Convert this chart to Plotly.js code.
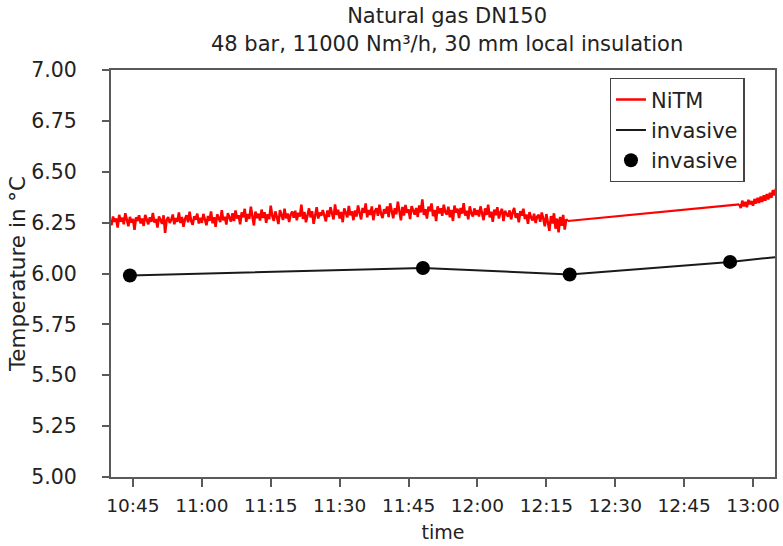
<!DOCTYPE html>
<html>
<head>
<meta charset="utf-8">
<script src="https://cdn.plot.ly/plotly-3.0.1.min.js"></script>
<style>html,body{margin:0;padding:0;background:#fff;}#chart{width:783px;height:546px;}</style>
</head>
<body>
<div id="chart"></div>
<script>
// NiTM segment 1: samples every 20 s starting 10:40:00
const nitmStart1 = '2020-01-01 10:40:00';
const nitmValues1 = [
6.262, 6.238, 6.280, 6.254, 6.270, 6.226, 6.288, 6.256, 6.274, 6.242, 6.296, 6.260, 6.232, 6.278, 6.250, 6.268, 6.214, 6.276, 6.258, 6.286,
6.246, 6.270, 6.234, 6.288, 6.260, 6.242, 6.276, 6.254, 6.298, 6.250, 6.268, 6.226, 6.280, 6.260, 6.244, 6.286, 6.200, 6.262, 6.278, 6.248,
6.264, 6.290, 6.242, 6.272, 6.254, 6.300, 6.248, 6.278, 6.230, 6.268, 6.286, 6.252, 6.304, 6.258, 6.240, 6.282, 6.264, 6.294, 6.246, 6.274,
6.249, 6.293, 6.265, 6.237, 6.283, 6.259, 6.305, 6.247, 6.277, 6.229, 6.291, 6.267, 6.253, 6.311, 6.261, 6.279, 6.241, 6.297, 6.271, 6.255,
6.296, 6.258, 6.310, 6.270, 6.286, 6.242, 6.300, 6.276, 6.318, 6.254, 6.292, 6.268, 6.328, 6.280, 6.236, 6.304, 6.272, 6.294, 6.260, 6.314,
6.273, 6.301, 6.249, 6.291, 6.267, 6.333, 6.283, 6.259, 6.305, 6.277, 6.243, 6.311, 6.285, 6.263, 6.319, 6.271, 6.295, 6.253, 6.289, 6.305,
6.274, 6.308, 6.262, 6.298, 6.280, 6.338, 6.268, 6.302, 6.252, 6.288, 6.320, 6.276, 6.306, 6.244, 6.294, 6.326, 6.270, 6.300, 6.284, 6.312,
6.284, 6.256, 6.310, 6.278, 6.326, 6.292, 6.266, 6.340, 6.288, 6.314, 6.270, 6.302, 6.252, 6.320, 6.294, 6.276, 6.332, 6.286, 6.306, 6.262,
6.310, 6.280, 6.334, 6.292, 6.266, 6.322, 6.298, 6.344, 6.276, 6.312, 6.288, 6.330, 6.262, 6.306, 6.320, 6.284, 6.338, 6.294, 6.272, 6.316,
6.295, 6.329, 6.277, 6.345, 6.303, 6.271, 6.321, 6.291, 6.353, 6.309, 6.261, 6.327, 6.285, 6.337, 6.299, 6.315, 6.267, 6.331, 6.305, 6.289,
6.322, 6.278, 6.334, 6.300, 6.364, 6.288, 6.316, 6.270, 6.328, 6.306, 6.344, 6.282, 6.312, 6.258, 6.330, 6.296, 6.320, 6.284, 6.338, 6.302,
6.290, 6.328, 6.276, 6.312, 6.258, 6.334, 6.300, 6.318, 6.272, 6.322, 6.294, 6.346, 6.284, 6.308, 6.266, 6.330, 6.296, 6.280, 6.320, 6.288,
6.312, 6.280, 6.330, 6.294, 6.262, 6.320, 6.288, 6.338, 6.276, 6.304, 6.254, 6.314, 6.286, 6.326, 6.270, 6.300, 6.318, 6.258, 6.308, 6.292,
6.280, 6.310, 6.266, 6.300, 6.322, 6.274, 6.296, 6.252, 6.306, 6.284, 6.318, 6.268, 6.290, 6.244, 6.302, 6.276, 6.260, 6.294, 6.248, 6.280,
6.288, 6.254, 6.300, 6.270, 6.232, 6.292, 6.258, 6.210, 6.282, 6.246, 6.296, 6.220, 6.270, 6.202, 6.278, 6.234, 6.288, 6.216, 6.266, 6.258
];
// NiTM segment 2: samples every 20 s starting 12:57:00
const nitmStart2 = '2020-01-01 12:57:00';
const nitmValues2 = [
6.340, 6.322, 6.358, 6.330, 6.352, 6.326, 6.362, 6.340, 6.356, 6.333, 6.366, 6.344, 6.372, 6.347, 6.378, 6.352, 6.384, 6.358, 6.390, 6.364,
6.396, 6.372, 6.410, 6.384, 6.418
];
const nitmGapTimes = ['2020-01-01 12:19:40', '2020-01-01 12:57:00'];
const nitmGapValues = [6.258, 6.340];

// invasive reference measurements
const invasiveTimes = ['2020-01-01 10:44:20', '2020-01-01 11:48:08', '2020-01-01 12:20:05', '2020-01-01 12:55:00'];
const invasiveValues = [5.990, 6.027, 5.995, 6.057];
const invasiveLineTimes = ['2020-01-01 10:44:20', '2020-01-01 11:48:08', '2020-01-01 12:20:05', '2020-01-01 12:55:00', '2020-01-01 13:06:00'];
const invasiveLineValues = [5.990, 6.027, 5.995, 6.057, 6.083];

const yTickVals = [5.00, 5.25, 5.50, 5.75, 6.00, 6.25, 6.50, 6.75, 7.00];
const yTickText = ['5.00', '5.25', '5.50', '5.75', '6.00', '6.25', '6.50', '6.75', '7.00'];

const FONT = 'DejaVu Sans, sans-serif';
const TXT = '#222';
const AX = '#5a5a5a';
const SAMPLE_MS = 20000;

const traces = [
  {type: 'scatter', mode: 'lines', name: 'NiTM', x0: nitmStart1, dx: SAMPLE_MS, y: nitmValues1,
   line: {color: '#ff0000', width: 2.5}, legendgroup: 'nitm'},
  {type: 'scatter', mode: 'lines', name: 'NiTM', x: nitmGapTimes, y: nitmGapValues,
   line: {color: '#ff0000', width: 2.2}, legendgroup: 'nitm', showlegend: false},
  {type: 'scatter', mode: 'lines', name: 'NiTM', x0: nitmStart2, dx: SAMPLE_MS, y: nitmValues2,
   line: {color: '#ff0000', width: 2.5}, legendgroup: 'nitm', showlegend: false},
  {type: 'scatter', mode: 'lines', name: 'invasive', x: invasiveLineTimes, y: invasiveLineValues,
   line: {color: '#1a1a1a', width: 2}},
  {type: 'scatter', mode: 'markers', name: 'invasive', x: invasiveTimes, y: invasiveValues,
   marker: {color: '#000', size: 14}}
];

const layout = {
  width: 783, height: 546,
  paper_bgcolor: '#fff', plot_bgcolor: '#fff',
  margin: {l: 111, r: 8, t: 70, b: 69},
  font: {family: FONT, size: 19, color: TXT},
  title: {text: 'Natural gas DN150<br>48 bar, 11000 Nm³/h, 30 mm local insulation',
          font: {family: FONT, size: 21, color: TXT},
          x: 0.571, xanchor: 'center', xref: 'container', y: 0.957, yanchor: 'top', yref: 'container'},
  showlegend: true,
  legend: {x: 0.751, y: 0.98, xanchor: 'left', yanchor: 'top',
           bgcolor: '#fff', bordercolor: '#444', borderwidth: 1.3,
           font: {family: FONT, size: 21, color: TXT}, tracegroupgap: 0},
  xaxis: {
    type: 'date',
    range: ['2020-01-01 10:40:13', '2020-01-01 13:04:47'],
    tick0: '2020-01-01 10:45:00', dtick: 900000, tickformat: '%H:%M',
    showline: true, linecolor: AX, linewidth: 2, mirror: true,
    ticks: 'outside', ticklen: 8, tickwidth: 2, tickcolor: AX,
    showgrid: false, zeroline: false,
    ticklabelstandoff: 3,
    tickfont: {family: FONT, size: 18.5, color: TXT},
    title: {text: 'time', font: {family: FONT, size: 19, color: TXT}, standoff: 10}
  },
  yaxis: {
    range: [5, 7],
    tickvals: yTickVals, ticktext: yTickText,
    showline: true, linecolor: AX, linewidth: 2, mirror: true,
    ticks: 'outside', ticklen: 7, tickwidth: 2, tickcolor: AX,
    showgrid: false, zeroline: false,
    ticklabelstandoff: 21,
    tickfont: {family: FONT, size: 20.5, color: TXT},
    title: {text: 'Temperature in °C', font: {family: FONT, size: 21.5, color: TXT}, standoff: 0}
  }
};

Plotly.newPlot('chart', traces, layout, {displayModeBar: false, staticPlot: true});
</script>
</body>
</html>
